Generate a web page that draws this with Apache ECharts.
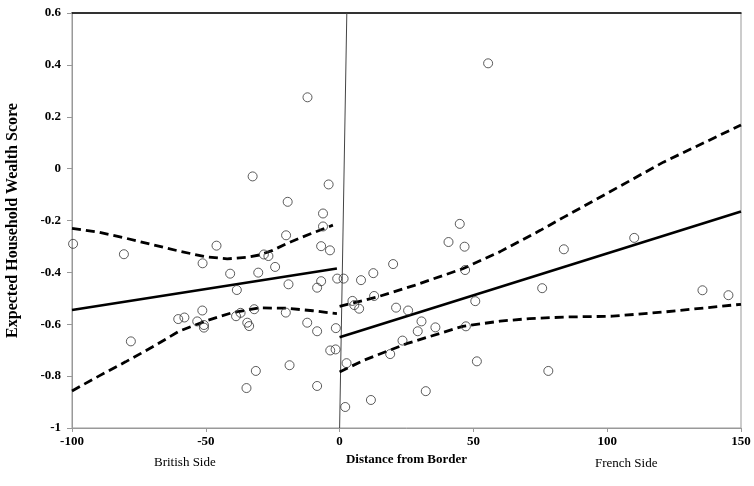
<!DOCTYPE html>
<html><head><meta charset="utf-8">
<script src="https://cdn.jsdelivr.net/npm/echarts@6/dist/echarts.min.js"></script>
<style>html,body{margin:0;padding:0;background:#fff}#c{width:754px;height:486px}</style>
</head><body><div id="c"></div>
<script>
// scatter points [distance, score]
const points = [
 [-12.0,0.275],[-32.5,-0.03],[-4.1,-0.061],[-19.4,-0.128],[-6.2,-0.173],
 [-99.6,-0.290],[-6.2,-0.223],[-80.6,-0.330],[-46.0,-0.297],[-20.0,-0.257],
 [-6.9,-0.299],[-3.6,-0.315],[-51.2,-0.365],[-28.3,-0.331],[-26.6,-0.337],
 [-24.1,-0.379],[-40.9,-0.405],[-30.4,-0.401],[-38.4,-0.468],[-19.1,-0.446],
 [-8.4,-0.459],[-6.9,-0.434],[-0.9,-0.424],[1.5,-0.424],[-60.3,-0.580],
 [-58.0,-0.574],[-51.3,-0.547],[-53.2,-0.589],[-50.7,-0.603],[-50.7,-0.613],
 [-38.7,-0.569],[-37.0,-0.556],[-31.9,-0.542],[-34.5,-0.594],[-33.8,-0.607],
 [-20.1,-0.555],[-12.1,-0.594],[-8.4,-0.627],[-1.4,-0.615],[-3.5,-0.701],
 [-1.5,-0.697],[-78.0,-0.666],[-31.3,-0.780],[-18.7,-0.758],[2.6,-0.750],
 [-34.8,-0.846],[-8.4,-0.838],[2.1,-0.919],
 [4.8,-0.510],[5.5,-0.526],[7.3,-0.540],[8.0,-0.430],[12.6,-0.403],
 [12.9,-0.491],[20.0,-0.368],[21.1,-0.536],[25.6,-0.547],[30.6,-0.589],
 [29.2,-0.627],[35.8,-0.612],[23.5,-0.663],[18.9,-0.715],[11.7,-0.892],
 [32.2,-0.858],[40.7,-0.283],[44.9,-0.213],[46.7,-0.301],[46.9,-0.391],
 [47.2,-0.608],[50.7,-0.511],[51.3,-0.743],[75.7,-0.461],[78.0,-0.780],
 [83.8,-0.311],[110.1,-0.267],[135.6,-0.469],[145.3,-0.488],[55.5,0.406]
];
// fitted lines and confidence bands
const leftFit = [[-100,-0.545],[-1,-0.385]];
const leftUpper = [[-100,-0.23],[-90,-0.245],[-80,-0.268],[-70,-0.293],[-60,-0.318],[-50,-0.340],[-42,-0.348],[-35,-0.342],[-30,-0.333],[-25,-0.315],[-20,-0.290],[-15,-0.268],[-10,-0.248],[-2.5,-0.218]];
const leftLower = [[-100,-0.857],[-90,-0.800],[-80,-0.745],[-70,-0.688],[-60,-0.627],[-50,-0.587],[-40,-0.555],[-30,-0.537],[-20,-0.538],[-10,-0.548],[-1,-0.559]];
const rightFit = [[0,-0.650],[150,-0.165]];
const rightUpper = [[0,-0.531],[14,-0.495],[28,-0.450],[46,-0.386],[60,-0.320],[75,-0.238],[84,-0.186],[100,-0.095],[121,0.025],[150,0.168]];
const rightLower = [[0,-0.784],[9,-0.739],[25,-0.675],[46,-0.608],[60,-0.588],[71,-0.578],[85,-0.572],[102,-0.569],[121,-0.553],[150,-0.523]];
const borderLine = [[0,-1],[2.7,0.6]];
const xTicks = [-100,-50,0,50,100,150];
const yTicks = [-1,-0.8,-0.6,-0.4,-0.2,0,0.2,0.4,0.6];

const serif = '"Liberation Serif","DejaVu Serif",serif';
const chart = echarts.init(document.getElementById('c'));
const dashStyle = {color:'#000', width:2.8, type:[9,5]};
const lineSeries = (data, style) => ({type:'line', data, symbol:'none', smooth:false, lineStyle:style, silent:true, z:3});
chart.setOption({
  animation:false,
  grid:{left:72, right:13, top:13, bottom:58, show:true, borderColor:'#999', borderWidth:1, containLabel:false, outerBoundsMode:'none'},
  xAxis:[{
    type:'value', min:xTicks[0], max:xTicks[xTicks.length-1], interval:50,
    name:'Distance from Border', nameLocation:'middle', nameGap:20,
    nameTextStyle:{fontFamily:serif, fontWeight:'bold', fontSize:13, color:'#000'},
    axisLine:{onZero:false, lineStyle:{color:'#999'}},
    axisTick:{show:true, length:4, lineStyle:{color:'#999'}},
    axisLabel:{fontFamily:serif, fontWeight:'bold', fontSize:13, color:'#000', margin:7},
    splitLine:{show:false}
  },{
    type:'value', position:'top', min:-100, max:150,
    axisLine:{show:true, onZero:false, lineStyle:{color:'#000', width:1.5}},
    axisTick:{show:false}, axisLabel:{show:false}, splitLine:{show:false}
  }],
  yAxis:{
    type:'value', min:yTicks[0], max:yTicks[yTicks.length-1], interval:0.2,
    name:'Expected Household Wealth Score', nameLocation:'middle', nameGap:51, nameRotate:90,
    nameTextStyle:{fontFamily:serif, fontWeight:'bold', fontSize:16, color:'#000'},
    axisLine:{show:true, onZero:false, lineStyle:{color:'#999'}},
    axisTick:{show:true, length:5, lineStyle:{color:'#999'}},
    axisLabel:{fontFamily:serif, fontWeight:'bold', fontSize:13, color:'#000', margin:11,
      formatter:v=>String(Math.round(v*10)/10)},
    splitLine:{show:false}
  },
  graphic:[
    {type:'text', left:154, top:456, style:{text:'British Side', fontFamily:serif, fontSize:13, fill:'#000'}},
    {type:'text', left:595, top:457, style:{text:'French Side', fontFamily:serif, fontSize:13, fill:'#000'}}
  ],
  series:[
    {type:'line', data:borderLine, symbol:'none', lineStyle:{color:'#444', width:1}, silent:true, z:1},
    lineSeries(leftFit, {color:'#000', width:2.6}),
    lineSeries(rightFit, {color:'#000', width:2.6}),
    lineSeries(leftUpper, dashStyle),
    lineSeries(leftLower, dashStyle),
    lineSeries(rightUpper, dashStyle),
    lineSeries(rightLower, dashStyle),
    {type:'scatter', data:points, symbol:'circle', symbolSize:9,
     itemStyle:{color:'rgba(255,255,255,0)', borderColor:'#333', borderWidth:1}, z:4}
  ]
});
</script></body></html>
